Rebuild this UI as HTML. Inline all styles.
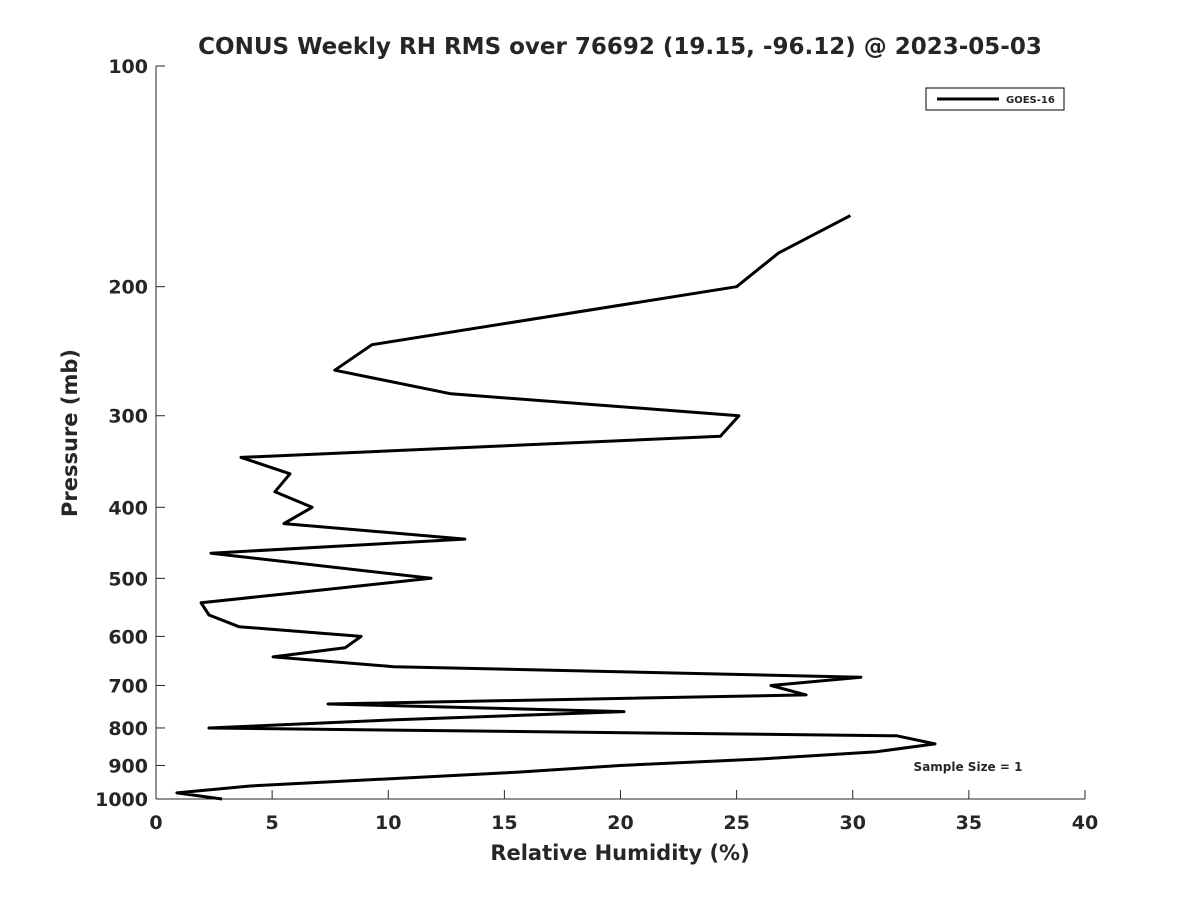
<!DOCTYPE html>
<html><head><meta charset="utf-8"><style>
body{margin:0;background:#fff;}
svg text{font-family:"DejaVu Sans","Liberation Sans",sans-serif;font-weight:bold;fill:#262626;}
</style></head><body>
<svg width="1200" height="900">
<rect width="1200" height="900" fill="#fff"/>
<text x="620" y="54" font-size="23" text-anchor="middle" fill="#000">CONUS Weekly RH RMS over 76692 (19.15, -96.12) @ 2023-05-03</text>
<g id="axes"></g>
<text x="620" y="860" font-size="21" text-anchor="middle">Relative Humidity (%)</text>
<text transform="translate(77,433) rotate(-90)" font-size="21" text-anchor="middle">Pressure (mb)</text>
<g>
<rect x="926" y="88" width="138" height="22" fill="#fff" stroke="#000" stroke-width="1"/>
<line x1="937" y1="99" x2="999" y2="99" stroke="#000" stroke-width="3"/>
<text x="1006" y="103" font-size="10" fill="#000">GOES-16</text>
</g>
<text x="968" y="771" font-size="12" text-anchor="middle" fill="#000">Sample Size = 1</text>
<path id="series" fill="none" stroke="#000" stroke-width="3" stroke-linejoin="round"/>
</svg>
<script>
const rhValues=[29.9,26.8,25.0,9.3,7.7,12.7,25.1,24.3,3.66,5.77,5.12,6.72,5.51,13.3,2.37,11.84,6.03,1.94,2.28,3.57,8.83,8.14,5.04,10.25,30.35,26.48,27.99,7.41,20.15,10.2,2.28,31.9,33.54,31.04,26.0,19.98,15.6,4.05,0.9,2.84];
const pressures=[160,180,200,240,260,280,300,320,342,360,381,400,421,442,462,500,523,540,561,582,600,622,640,660,682,700,721,742,760,780,800,820,841,862,882,900,919,960,981,1000];
const xTicks=[0,5,10,15,20,25,30,35,40];
const yTicks=[100,200,300,400,500,600,700,800,900,1000];
const X0=156,X1=1085,Y0=66,Y1=799;
const xs=v=>X0+(v-0)/40*(X1-X0);
const ys=p=>Y0+Math.log10(p/100)*(Y1-Y0);
const NS="http://www.w3.org/2000/svg";
const g=document.getElementById('axes');
function mk(t,a){const e=document.createElementNS(NS,t);for(const k in a)e.setAttribute(k,a[k]);g.appendChild(e);return e;}
const ax=mk('line',{x1:X0,y1:Y0,x2:X0,y2:Y1,stroke:'#262626','stroke-width':1});


const bx=mk('line',{x1:X0,y1:Y1,x2:X1,y2:Y1,stroke:'#262626','stroke-width':1});


xTicks.forEach(v=>{const x=xs(v);
mk('line',{x1:x,y1:Y1,x2:x,y2:Y1-9,stroke:'#262626','stroke-width':1});
const t=mk('text',{x:x,y:Y1+30,'font-size':19,'text-anchor':'middle'});t.textContent=v;

});
yTicks.forEach(p=>{const y=ys(p);
mk('line',{x1:X0,y1:y,x2:X0+9,y2:y,stroke:'#262626','stroke-width':1});
const t=mk('text',{x:X0-8,y:y+7,'font-size':19,'text-anchor':'end'});t.textContent=p;

});
document.getElementById('series').setAttribute('d',rhValues.map((v,i)=>(i?'L':'M')+xs(v).toFixed(1)+' '+ys(pressures[i]).toFixed(1)).join(' '));
</script>
</body></html>
